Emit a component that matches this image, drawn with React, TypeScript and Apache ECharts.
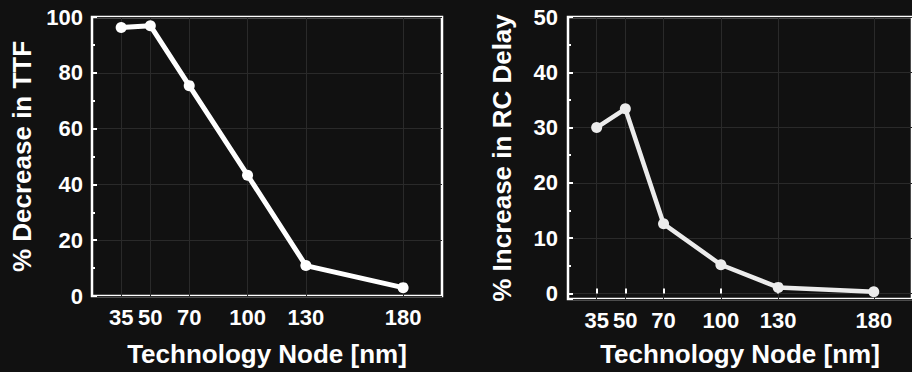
import React, { useEffect, useRef } from "react";
import * as echarts from "echarts";

const nodes = [35, 50, 70, 100, 130, 180];
const ttfDecrease = [96.2, 96.9, 75.4, 43.3, 10.9, 3.0];
const rcIncrease = [30.0, 33.4, 12.6, 5.2, 1.1, 0.3];
const xTitle = "Technology Node [nm]";
const leftYTitle = "% Decrease in TTF";
const rightYTitle = "% Increase in RC Delay";

const FONT = "'Liberation Sans', Arial, Helvetica, sans-serif";
const BG = "#111111";
const GRID = "#2a2a2a";

export default function App() {
  const ref = useRef<HTMLDivElement>(null);
  useEffect(() => {
    if (!ref.current) return;
    const chart = echarts.init(ref.current, undefined, { renderer: "svg" });
    const labelStyle = { color: "#ffffff", fontSize: 22, fontWeight: "bold" as const, fontFamily: FONT };
    const titleStyle = { color: "#ffffff", fontSize: 26, fontWeight: "bold" as const, fontFamily: FONT };
    chart.setOption({
      animation: false,
      backgroundColor: BG,
      grid: [
        { left: 92, top: 17, width: 350, height: 282, show: true, borderColor: "#ffffff", borderWidth: 2.5, backgroundColor: BG },
        { left: 568, top: 17, width: 347, height: 282, show: true, borderColor: "#ffffff", borderWidth: 2.5, backgroundColor: BG },
      ],
      xAxis: [
        {
          gridIndex: 0, type: "value", min: 20, max: 200,
          name: xTitle, nameLocation: "middle", nameGap: 45, nameTextStyle: titleStyle,
          axisLine: { show: false },
          axisTick: { show: false, customValues: nodes },
          axisLabel: { ...labelStyle, margin: 10, customValues: nodes },
          splitLine: { show: true, lineStyle: { color: GRID, width: 1 } },
        },
        {
          gridIndex: 1, type: "value", min: 20, max: 200,
          name: xTitle, nameLocation: "middle", nameGap: 42, nameTextStyle: titleStyle,
          axisLine: { show: false },
          axisTick: { show: true, inside: true, length: 5, lineStyle: { color: "#ffffff", width: 2 }, customValues: nodes },
          axisLabel: { ...labelStyle, margin: 10, customValues: nodes },
          splitLine: { show: true, lineStyle: { color: GRID, width: 1 } },
        },
      ],
      yAxis: [
        {
          gridIndex: 0, type: "value", min: 0, max: 100, interval: 20,
          name: leftYTitle, nameLocation: "middle", nameGap: 57, nameRotate: 90, nameTextStyle: titleStyle,
          axisLine: { show: false },
          axisTick: { show: true, inside: true, length: 5, lineStyle: { color: "#ffffff", width: 2 } },
          minorTick: { show: true, splitNumber: 2, length: 3, lineStyle: { color: "#ffffff", width: 2 } },
          axisLabel: { ...labelStyle, margin: 9 },
          splitLine: { show: true, lineStyle: { color: GRID, width: 1 } },
        },
        {
          gridIndex: 1, type: "value", min: -1, max: 50, splitNumber: 5,
          name: rightYTitle, nameLocation: "middle", nameGap: 53, nameRotate: 90, nameTextStyle: titleStyle,
          axisLine: { show: false },
          axisTick: { show: true, inside: true, length: 5, lineStyle: { color: "#ffffff", width: 2 } },
          minorTick: { show: true, splitNumber: 2, length: 3, lineStyle: { color: "#ffffff", width: 2 } },
          axisLabel: { ...labelStyle, margin: 10, formatter: (v: number) => (v < 0 ? "" : String(Math.round(v))) },
          splitLine: { show: true, lineStyle: { color: GRID, width: 1 } },
        },
      ],
      series: [
        {
          type: "line", xAxisIndex: 0, yAxisIndex: 0,
          data: nodes.map((n, i) => [n, ttfDecrease[i]]),
          symbol: "circle", symbolSize: 11,
          lineStyle: { color: "#ffffff", width: 5 },
          itemStyle: { color: "#ffffff" },
        },
        {
          type: "line", xAxisIndex: 1, yAxisIndex: 1,
          data: nodes.map((n, i) => [n, rcIncrease[i]]),
          symbol: "circle", symbolSize: 11,
          lineStyle: { color: "#ececec", width: 4.5 },
          itemStyle: { color: "#ececec" },
        },
      ],
    });
    return () => chart.dispose();
  }, []);
  return (
    <div
      ref={ref}
      style={{ position: "fixed", left: 0, top: 0, width: 912, height: 372, background: BG }}
    />
  );
}
